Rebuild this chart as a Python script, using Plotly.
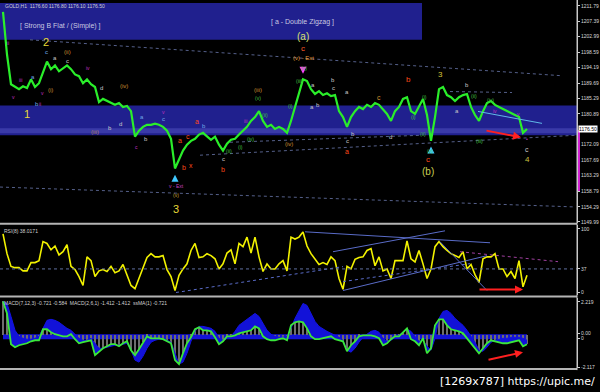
import plotly.graph_objects as go

# ---------------- data ----------------
price = [1210.1, 1197.9, 1189.4, 1188.6, 1188.0, 1188.8, 1188.3, 1190.8, 1188.6, 1189.7,
         1193.1, 1195.9, 1193.7, 1194.8, 1193.1, 1193.9, 1194.8, 1193.7, 1192.2, 1191.7,
         1189.7, 1190.8, 1189.4, 1188.6, 1184.3, 1185.2, 1184.6, 1184.0, 1183.5, 1184.0,
         1182.9, 1183.2, 1181.7, 1174.4, 1176.1, 1177.2, 1177.8, 1177.8, 1178.1, 1177.8,
         1177.2, 1176.1, 1173.8, 1165.3, 1168.1, 1170.4, 1172.1, 1173.2, 1173.8, 1175.0,
         1175.5, 1174.4, 1173.5, 1174.4, 1172.1, 1170.4, 1172.4, 1173.5, 1173.8, 1175.0,
         1176.1, 1177.2, 1178.9, 1180.0, 1181.7, 1178.9, 1177.2, 1177.8, 1176.6, 1177.2,
         1176.6, 1175.5, 1178.9, 1182.9, 1186.6, 1190.8, 1190.3, 1188.0, 1186.6, 1187.4,
         1186.3, 1186.8, 1186.0, 1186.3, 1181.7, 1180.0, 1177.2, 1180.0, 1181.7, 1182.9,
         1182.3, 1183.5, 1182.9, 1184.0, 1183.5, 1182.3, 1180.9, 1178.9, 1181.7, 1182.9,
         1185.2, 1185.7, 1181.7, 1180.9, 1182.9, 1185.2, 1180.6, 1173.2, 1180.0, 1188.0,
         1188.6, 1186.3, 1185.7, 1184.6, 1185.7, 1186.3, 1186.6, 1182.9, 1180.6, 1178.9,
         1181.7, 1184.0, 1184.6, 1183.5, 1182.9, 1182.3, 1181.7, 1181.2, 1180.6, 1180.0,
         1175.5, 1176.6]

rsi = [92, 61, 41, 39, 39, 34, 34, 47, 47, 50,
       80, 77, 67, 73, 59, 64, 75, 41, 36, 25,
       11, 56, 50, 25, 34, 36, 33, 41, 31, 34,
       44, 28, 11, 6, 23, 37, 55, 61, 56, 56,
       58, 36, 25, 3, 27, 37, 45, 66, 77, 55,
       56, 61, 58, 53, 37, 45, 62, 67, 45, 77,
       72, 87, 62, 87, 56, 33, 45, 37, 37, 45,
       50, 34, 87, 84, 87, 95, 73, 61, 53, 44,
       47, 44, 56, 50, 22, 5, 41, 37, 52, 55,
       56, 66, 69, 42, 56, 34, 37, 22, 50, 50,
       50, 81, 53, 48, 66, 45, 22, 37, 72, 80,
       72, 66, 61, 58, 55, 64, 37, 44, 28, 16,
       53, 56, 56, 61, 37, 37, 25, 33, 22, 50,
       9, 27]

macd_fast = [2.24, 1.45, -0.59, -0.79, -0.66, -0.59, -0.53, -0.40, -0.33, -0.33,
             0.40, 0.40, 0.20, 0.07, 0.0, -0.07, -0.07, 0.07, -0.26, -0.53,
             -0.46, -0.40, -0.33, -1.32, -1.06, -0.86, -0.73, -0.59, -0.59, -0.73,
             -0.53, -0.40, -0.99, -1.32, -0.92, -0.46, -0.07, -0.20, -0.20, -0.20,
             -0.26, -0.40, -0.53, -1.65, -1.91, -1.19, -0.53, -0.13, 0.40, 0.53,
             0.33, 0.33, 0.26, -0.13, -0.59, -0.40, -0.07, -0.07, 0.0, 0.13,
             0.20, 0.26, 0.33, 0.59, 0.46, -0.07, -0.26, -0.33, -0.33, -0.26,
             -0.20, -0.33, 0.66, 0.86, 0.92, 0.86, 0.46, -0.07, -0.26, -0.26,
             -0.20, -0.13, -0.07, -0.26, -0.33, -0.40, -1.06, -0.66, -0.40, -0.07,
             0.0, 0.0, 0.0, -0.07, -0.20, -0.66, -0.53, -0.26, -0.07, -0.07,
             0.20, 0.46, -0.26, -0.40, -0.66, -0.20, -1.19, -0.86, 0.66, 1.06,
             1.06, 0.66, 0.40, 0.33, 0.26, 0.13, -0.20, -0.53, -0.79, -1.19,
             -0.86, -0.53, -0.33, -0.40, -0.46, -0.53, -0.53, -0.46, -0.40, -0.33,
             -0.73, -0.59]

macd_slow = [2.24, 2.11, 1.25, 0.33, -0.07, -0.20, -0.26, -0.26, -0.20, -0.07,
             0.46, 0.99, 1.06, 0.99, 0.86, 0.66, 0.46, 0.33, 0.07, -0.20,
             -0.33, -0.33, -0.20, -0.53, -0.86, -0.86, -0.79, -0.73, -0.66, -0.66,
             -0.59, -0.53, -0.99, -1.65, -1.78, -1.39, -0.86, -0.46, -0.33, -0.26,
             -0.26, -0.33, -0.46, -1.19, -1.91, -1.78, -1.19, -0.40, 0.26, 0.59,
             0.59, 0.53, 0.46, 0.26, -0.20, -0.33, -0.20, -0.07, 0.26, 0.66,
             0.86, 1.06, 1.25, 1.45, 1.25, 0.79, 0.33, 0.07, -0.07, -0.13,
             -0.13, -0.07, 0.46, 1.12, 1.58, 2.11, 1.98, 1.45, 0.92, 0.59,
             0.40, 0.26, 0.13, 0.0, -0.13, -0.33, -0.99, -1.12, -0.86, -0.46,
             -0.13, 0.07, 0.26, 0.33, 0.20, -0.20, -0.40, -0.33, -0.13, 0.0,
             0.20, 0.40, 0.26, -0.07, -0.40, -0.33, -0.73, -0.99, -0.20, 1.12,
             1.58, 1.65, 1.45, 1.12, 0.86, 0.66, 0.33, -0.07, -0.46, -0.99,
             -1.06, -0.79, -0.46, -0.33, -0.26, -0.20, -0.20, -0.13, -0.13, -0.13,
             -0.20, -0.33]

bars = list(range(len(price)))

main_tick_vals = [1211.79, 1207.39, 1202.99, 1198.59, 1194.19, 1189.69, 1185.29,
                  1180.89, 1172.09, 1167.69, 1163.29, 1158.79, 1154.29, 1149.99]
main_tick_text = ["1211.79", "1207.39", "1202.99", "1198.59", "1194.19", "1189.69", "1185.29",
                  "1180.89", "1172.09", "1167.69", "1163.29", "1158.79", "1154.29", "1149.99"]
last_price = 1176.50
rsi_tick_vals = [100, 37, 0]
rsi_tick_text = ["100", "37", "0"]
macd_tick_vals = [2.219, 0.13, -0.2, -2.117]
macd_tick_text = ["2.219", "0.00", "0", "-2.117"]

# ---------------- geometry helpers (pixel -> axis) ----------------
W, H = 600, 392
PLOT_R = 577
X0 = -0.75
X1 = (PLOT_R - 3) / 4.0
Y_TOP, PPX = 1213.5, 0.28465
def X(px): return (px - 3) / 4.0
def P(py): return Y_TOP - py * PPX
def R(py): return (294 - py) / 0.64
def M(py): return (337 - py) * 0.066
def py2paper(py): return 1 - py / H

FONT = "Liberation Sans"
fig = go.Figure()

# price
fig.add_trace(go.Scatter(x=bars, y=price, mode="lines",
                         line=dict(color="#2aee2a", width=2.2), xaxis="x", yaxis="y",
                         hoverinfo="skip"))
# markers derived from price
fig.add_trace(go.Scatter(x=[43, 107], y=[price[43] - 1.8, price[107] - 1.6], mode="markers",
                         marker=dict(symbol="arrow-up", size=7, color="#40c8ff"),
                         xaxis="x", yaxis="y", hoverinfo="skip"))
fig.add_trace(go.Scatter(x=[75], y=[price[75] + 1.6], mode="markers",
                         marker=dict(symbol="arrow-down", size=7, color="#ff40ff"),
                         xaxis="x", yaxis="y", hoverinfo="skip"))
# RSI
fig.add_trace(go.Scatter(x=bars, y=rsi, mode="lines",
                         line=dict(color="#f2f200", width=1.6), xaxis="x2", yaxis="y2",
                         hoverinfo="skip"))
# MACD
fig.add_trace(go.Bar(x=bars, y=macd_fast, marker=dict(color="#6e6e6e", line_width=0),
                     width=0.22, xaxis="x3", yaxis="y3", hoverinfo="skip"))
fig.add_trace(go.Scatter(x=bars, y=macd_slow, mode="lines",
                         line=dict(color="#1414e0", width=1), xaxis="x3", yaxis="y3",
                         hoverinfo="skip"))
fig.add_trace(go.Scatter(x=bars, y=macd_fast, mode="lines",
                         line=dict(color="#3ae83a", width=1.8), fill="tonexty",
                         fillcolor="#1212d8", xaxis="x3", yaxis="y3", hoverinfo="skip"))

xd = [0, PLOT_R / W]
axis_common = dict(range=[X0, X1], domain=xd, showticklabels=False, showgrid=False,
                   zeroline=False, showline=False, ticks="")
ytick_common = dict(side="right", showgrid=False, zeroline=False, ticks="outside",
                    ticklen=2, tickcolor="#d0d0d0", showline=True, linecolor="#c8c8c8",
                    linewidth=1, tickfont=dict(size=5, color="#d8d8d8", family=FONT))

fig.update_layout(
    width=W, height=H, margin=dict(l=0, r=0, t=0, b=0),
    paper_bgcolor="black", plot_bgcolor="black", showlegend=False, bargap=0,
    xaxis=dict(anchor="y", **axis_common),
    xaxis2=dict(anchor="y2", matches="x", **axis_common),
    xaxis3=dict(anchor="y3", matches="x", **axis_common),
    yaxis=dict(domain=[py2paper(224), py2paper(0)], range=[P(224), Y_TOP],
               tickvals=main_tick_vals, ticktext=main_tick_text, anchor="x", **ytick_common),
    yaxis2=dict(domain=[py2paper(297), py2paper(226)], range=[R(297), R(226)],
                tickvals=rsi_tick_vals, ticktext=rsi_tick_text, anchor="x2", **ytick_common),
    yaxis3=dict(domain=[py2paper(370), py2paper(300)], range=[M(370), M(300)],
                tickvals=macd_tick_vals, ticktext=macd_tick_text, anchor="x3", **ytick_common),
)

shapes = []
# blue boxes in the main pane
shapes.append(dict(type="rect", xref="paper", yref="y", x0=0, x1=422 / W, y0=P(40), y1=P(3),
                   fillcolor="#20208e", line_width=0, layer="below"))
shapes.append(dict(type="rect", xref="paper", yref="y", x0=0, x1=PLOT_R / W, y0=P(136), y1=P(106),
                   fillcolor="#20208e", line_width=0, layer="below"))
shapes.append(dict(type="rect", xref="paper", yref="y", x0=0, x1=PLOT_R / W, y0=P(134), y1=P(129),
                   fillcolor="#3a3aa8", line_width=0, layer="below"))
# dotted trend lines main
for (a, b, c, d, col) in [(30, 40, 560, 76, "#55608a"), (0, 188, 575, 208, "#55608a"),
                          (200, 156, 575, 136, "#55608a"), (450, 92, 512, 93, "#55608a"),
                          (230, 143, 420, 136, "#55608a")]:
    shapes.append(dict(type="line", xref="x", yref="y", x0=X(a), y0=P(b), x1=X(c), y1=P(d),
                       line=dict(color=col, width=1, dash="dot")))
shapes.append(dict(type="line", xref="x", yref="y", x0=X(478), y0=P(112), x1=X(542), y1=P(124),
                   line=dict(color="#60b8e8", width=1)))
# RSI trend lines
for (a, b, c, d, col, dash) in [(305, 233, 490, 244, "#5a6cc8", "solid"),
                                (333, 253, 445, 232, "#5a6cc8", "solid"),
                                (343, 292, 487, 257, "#5a6cc8", "solid"),
                                (440, 243, 487, 292, "#5a6cc8", "solid"),
                                (176, 294, 343, 268, "#5a6cc8", "dot"),
                                (343, 283, 470, 265, "#5a6cc8", "dot"),
                                (460, 253, 558, 263, "#a040a0", "dot")]:
    shapes.append(dict(type="line", xref="x2", yref="y2", x0=X(a), y0=R(b), x1=X(c), y1=R(d),
                       line=dict(color=col, width=1, dash=dash)))
shapes.append(dict(type="line", xref="x2", yref="y2", x0=X0, x1=X1, y0=37, y1=37,
                   line=dict(color="#6070a0", width=1, dash="dot")))
# MACD blue zero band
shapes.append(dict(type="rect", xref="x3", yref="y3", x0=0, x1=131, y0=-0.26, y1=0.07,
                   fillcolor="#1414d8", line_width=0, layer="below"))
# pane separators
for py in (225, 298, 371):
    shapes.append(dict(type="line", xref="paper", yref="paper", x0=0, x1=PLOT_R / W,
                       y0=py2paper(py), y1=py2paper(py), line=dict(color="#b4b4b4", width=2)))
shapes.append(dict(type="line", xref="paper", yref="paper", x0=PLOT_R / W, x1=PLOT_R / W,
                   y0=py2paper(372), y1=1, line=dict(color="#c8c8c8", width=1)))
shapes.append(dict(type="line", xref="paper", yref="y", x0=579 / W, x1=579 / W,
                   y0=P(192), y1=P(131), line=dict(color="#d020d0", width=2)))
fig.update_layout(shapes=shapes)

ann = []
def lab(px, py, text, color, size):
    ann.append(dict(x=X(px), y=P(py), xref="x", yref="y", text=text, showarrow=False,
                    font=dict(color=color, size=size, family=FONT)))

big = [(46, 42, "2", "#e8d838", 11), (27, 115, "1", "#e8d838", 11), (176, 210, "3", "#e8d838", 11),
       (303, 37, "(a)", "#d8e070", 10), (428, 172, "(b)", "#c8d050", 10),
       (303, 49, "c", "#ff5a28", 8), (303, 58, "(v) - Ext", "#e09a30", 6),
       (440, 75, "3", "#d8c838", 8), (527, 150, "c", "#c8c8c8", 7), (527, 160, "4", "#c8c040", 8),
       (428, 160, "c", "#ff4a18", 8), (408, 80, "b", "#ff4a18", 8), (347, 152, "a", "#ff4a18", 7),
       (223, 170, "b", "#ff4a18", 7), (180, 141, "a", "#ff4a18", 7), (188, 137, "c", "#ff4a18", 7),
       (184, 168, "b", "#ff4a18", 7), (191, 166, "x", "#ff4a18", 7), (197, 122, "a", "#ff4a18", 7),
       (176, 187, "v - Ext", "#c040c0", 5), (176, 196, "(v)", "#c8a030", 5),
       (67, 52, "(ii)", "#d09030", 6), (50, 90, "(i)", "#d09030", 6), (95, 133, "(iii)", "#b08060", 6),
       (124, 86, "(iv)", "#d09030", 6), (258, 90, "(iii)", "#d09030", 6), (289, 145, "(iv)", "#d09030", 6),
       (379, 98, "c", "#d09030", 7)]
for t in big:
    lab(*t)
for (px, py, t) in [(55, 58, "a"), (67, 61, "c"), (101, 88, "d"), (110, 129, "b"), (120, 125, "d"),
                    (146, 140, "b"), (313, 85, "a"), (333, 80, "b"), (333, 88, "c"), (347, 92, "a"),
                    (312, 108, "a"), (318, 106, "b"), (353, 135, "b"), (347, 142, "c"), (390, 138, "d"),
                    (457, 112, "a"), (467, 85, "b"), (223, 160, "c")]:
    lab(px, py, t, "#c8c8c8", 6)
for (px, py, t) in [(46, 52, "c"), (33, 77, "a"), (37, 105, "b"), (142, 118, "a"), (163, 120, "c"),
                    (204, 127, "b")]:
    lab(px, py, t, "#70a8e8", 6)
for (px, py, t) in [(304, 68, "(v)"), (299, 81, "(iii)"), (290, 107, "(i)"), (424, 97, "(i)"),
                    (474, 96, "(ii)"), (490, 101, "(iv)"), (413, 118, "(i)"), (423, 135, "(ii)"),
                    (430, 152, "(v)"), (479, 142, "(iii)"), (258, 98, "(v)"), (229, 152, "(ii)"),
                    (240, 148, "(i)"), (265, 116, "(ii)"), (250, 140, "(iv)")]:
    lab(px, py, t, "#40c040", 5)
for (px, py, t) in [(8, 43, "ii"), (20, 80, "iii"), (13, 97, "v"), (40, 105, "ii"), (88, 68, "iv"),
                    (163, 113, "v"), (136, 148, "c"), (495, 112, "iv"), (518, 115, "v"),
                    (527, 140, "•"), (245, 122, "iii"), (42, 93, "v")]:
    lab(px, py, t, "#c030c0", 5)

# box titles
ann.append(dict(x=X(60), y=P(26), xref="x", yref="y", text="[ Strong B Flat / (Simple) ]",
                showarrow=False, font=dict(color="#c8c8e0", size=7, family=FONT)))
ann.append(dict(x=X(302), y=P(22), xref="x", yref="y", text="[ a - Double Zigzag ]",
                showarrow=False, font=dict(color="#c8c8e0", size=7, family=FONT)))
# red arrows
ann.append(dict(x=X(521), y=P(138), ax=X(485), ay=P(131), xref="x", yref="y", axref="x", ayref="y",
                text="", showarrow=True, arrowhead=2, arrowsize=0.8, arrowwidth=2, arrowcolor="#ff2020"))
ann.append(dict(x=X(523), y=R(291), ax=X(478), ay=R(291), xref="x2", yref="y2", axref="x2", ayref="y2",
                text="", showarrow=True, arrowhead=2, arrowsize=0.8, arrowwidth=2, arrowcolor="#ff2020"))
ann.append(dict(x=X(523), y=M(354), ax=X(487), ay=M(362), xref="x3", yref="y3", axref="x3", ayref="y3",
                text="", showarrow=True, arrowhead=2, arrowsize=0.8, arrowwidth=2, arrowcolor="#ff2020"))
# price label on axis
ann.append(dict(x=578 / W, y=last_price, xref="paper", yref="y", text="1176.50", showarrow=False,
                xanchor="left", bgcolor="white", borderpad=0,
                font=dict(color="black", size=5, family=FONT)))
# pane titles
ann.append(dict(x=3 / W, y=py2paper(1), xref="paper", yref="paper", xanchor="left", yanchor="top",
                text="GOLD,H1  1176.60 1176.80 1176.10 1176.50", showarrow=False,
                font=dict(color="#d0d0d0", size=5, family=FONT)))
ann.append(dict(x=2 / W, y=py2paper(227), xref="paper", yref="paper", xanchor="left", yanchor="top",
                text="RSI(8) 38.0171", showarrow=False, font=dict(color="#d0d0d0", size=5, family=FONT)))
ann.append(dict(x=2 / W, y=py2paper(300), xref="paper", yref="paper", xanchor="left", yanchor="top",
                text="MACD(7,12,3) -0.721 -0.584  MACD(2,6,1) -1.412 -1.412  ssMA(1) -0.721",
                showarrow=False, font=dict(color="#d0d0d0", size=5, family=FONT)))
# watermark
ann.append(dict(x=597 / W, y=py2paper(383), xref="paper", yref="paper", xanchor="right", yanchor="middle",
                text="[1269x787] https://upic.me/", showarrow=False,
                font=dict(color="white", size=11, family="DejaVu Sans")))
fig.update_layout(annotations=ann)

fig.write_html("out.html", config={"displayModeBar": False})

# remove the default page margin so the 600x392 figure fills the window
with open("out.html", "r", encoding="utf-8") as f:
    html = f.read()
html = html.replace("<body>", '<body style="margin:0;padding:0;background:black;overflow:hidden">', 1)
with open("out.html", "w", encoding="utf-8") as f:
    f.write(html)
